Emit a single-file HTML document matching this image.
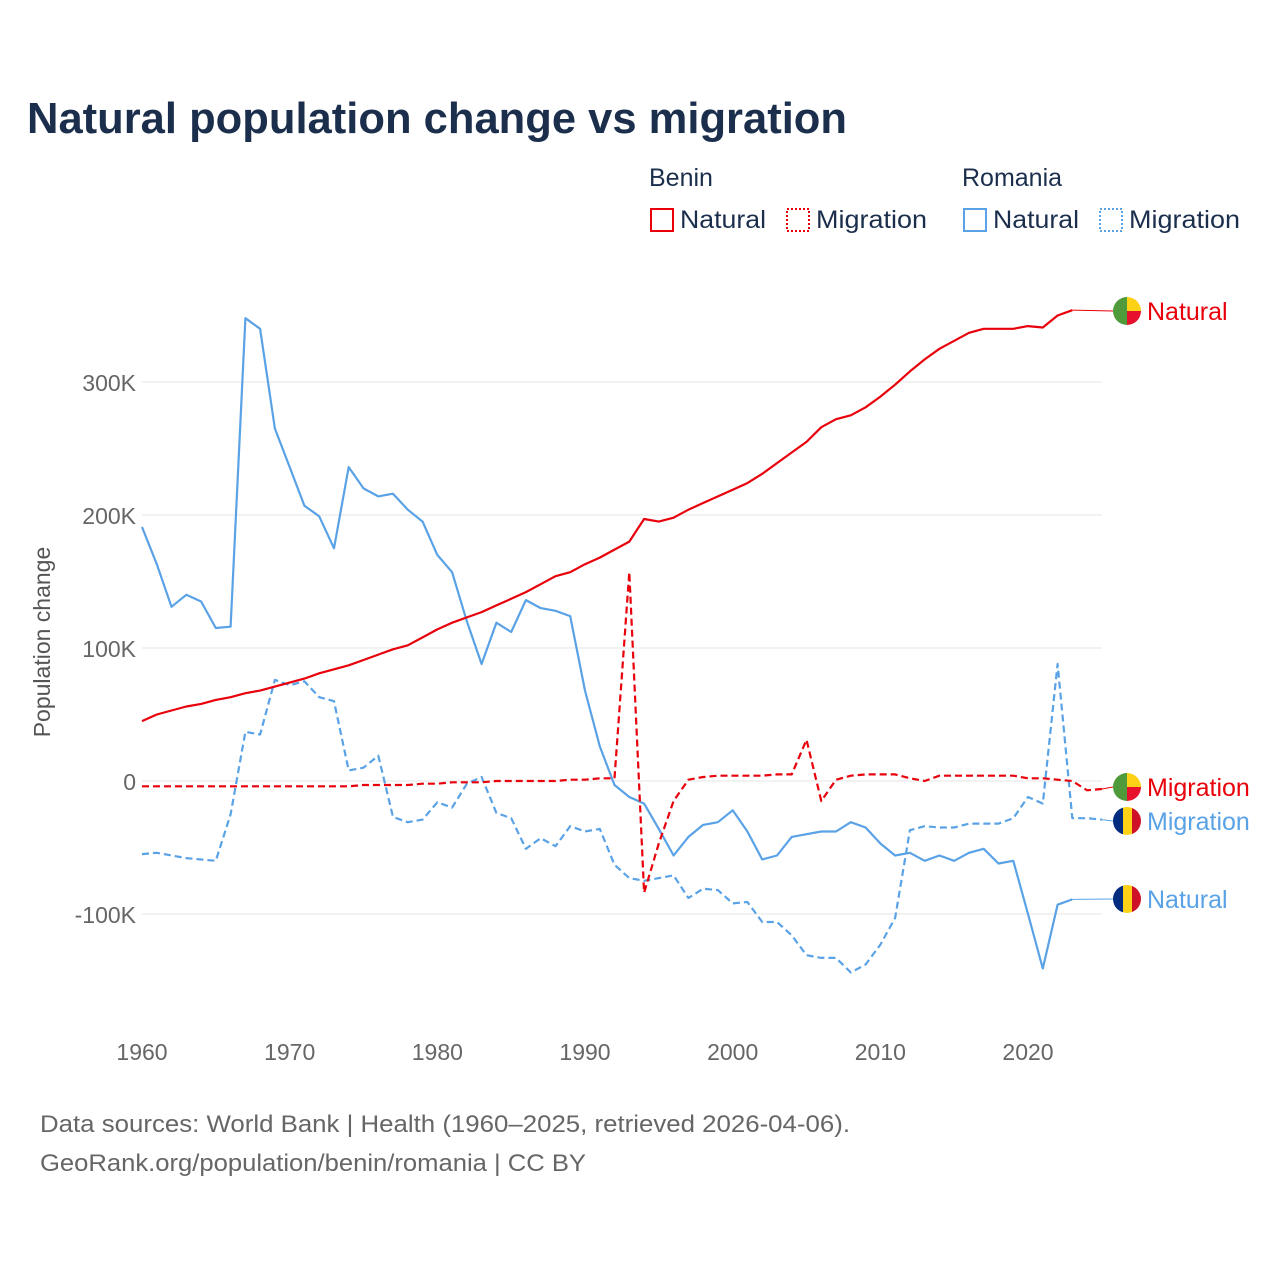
<!DOCTYPE html>
<html><head><meta charset="utf-8">
<style>
body{margin:0;background:#fff;font-family:"Liberation Sans",Lato,sans-serif;}
#wrap{position:relative;width:1280px;height:1280px;overflow:hidden}
</style></head>
<body>
<div id="wrap">
<svg id="chart" width="1280" height="1280" xmlns="http://www.w3.org/2000/svg" font-family="Liberation Sans, sans-serif">
<text x="27" y="133" font-size="44" font-weight="bold" fill="#1b2f4d" textLength="820" lengthAdjust="spacingAndGlyphs">Natural population change vs migration</text>
<g font-size="25" fill="#1b2f4d">
<text x="649" y="186">Benin</text>
<text x="962" y="186">Romania</text>
<g><rect x="651" y="209" width="22" height="22" fill="none" stroke="#e8000b" stroke-width="2"/><text x="680" y="228" textLength="86" lengthAdjust="spacingAndGlyphs">Natural</text></g>
<g><rect x="787" y="209" width="22" height="22" fill="none" stroke="#e8000b" stroke-width="2" stroke-dasharray="2,2"/><text x="816" y="228" textLength="111" lengthAdjust="spacingAndGlyphs">Migration</text></g>
<g><rect x="964" y="209" width="22" height="22" fill="none" stroke="#5aa2e6" stroke-width="2"/><text x="993" y="228" textLength="86" lengthAdjust="spacingAndGlyphs">Natural</text></g>
<g><rect x="1100" y="209" width="22" height="22" fill="none" stroke="#5aa2e6" stroke-width="2" stroke-dasharray="2,2"/><text x="1129" y="228" textLength="111" lengthAdjust="spacingAndGlyphs">Migration</text></g>
</g>
<text transform="translate(50,642) rotate(-90)" text-anchor="middle" font-size="23" fill="#555">Population change</text>
<g id="grid"></g><g id="yticks"></g><g id="xticks"></g><g id="series"></g><g id="labels"></g>
<text x="40" y="1132" font-size="24" fill="#666" textLength="810" lengthAdjust="spacingAndGlyphs">Data sources: World Bank | Health (1960–2025, retrieved 2026-04-06).</text>
<text x="40" y="1171" font-size="24" fill="#666" textLength="546" lengthAdjust="spacingAndGlyphs">GeoRank.org/population/benin/romania | CC BY</text>
</svg>
</div>
<script>
const years = Array.from({length:66},(_,i)=>1960+i);
const yTicks = [-100000,0,100000,200000,300000];
const yTickLabels = ["-100K","0","100K","200K","300K"];
const xTicks = [1960,1970,1980,1990,2000,2010,2020];
const romaniaNatural = [191,163,131,140,135,115,116,348,340,265,236,207,199,175,236,220,214,216,204,195,170,157,120,88,119,112,136,130,128,124,68,26,-3,-12,-17,-36,-56,-42,-33,-31,-22,-38,-59,-56,-42,-40,-38,-38,-31,-35,-47,-56,-54,-60,-56,-60,-54,-51,-62,-60,-100,-141,-93,-89];
const romaniaMigration = [-55,-54,-56,-58,-59,-60,-25,37,35,76,72,75,63,60,8,10,19,-27,-31,-29,-16,-20,-2,3,-24,-28,-51,-43,-49,-34,-38,-36,-63,-73,-75,-73,-71,-88,-81,-82,-92,-91,-106,-106,-116,-131,-133,-133,-144,-138,-123,-103,-37,-34,-35,-35,-32,-32,-32,-28,-12,-17,88,-28,-28,-29];
const beninNatural = [45,50,53,56,58,61,63,66,68,71,74,77,81,84,87,91,95,99,102,108,114,119,123,127,132,137,142,148,154,157,163,168,174,180,197,195,198,204,209,214,219,224,231,239,247,255,266,272,275,281,289,298,308,317,325,331,337,340,340,340,342,341,350,354];
const beninMigration = [-4,-4,-4,-4,-4,-4,-4,-4,-4,-4,-4,-4,-4,-4,-4,-3,-3,-3,-3,-2,-2,-1,-1,-1,0,0,0,0,0,1,1,2,2,157,-84,-47,-15,1,3,4,4,4,4,5,5,31,-15,1,4,5,5,5,2,0,4,4,4,4,4,4,2,2,1,0,-7,-6];
const NS="http://www.w3.org/2000/svg";
const X=y=>142+(y-1960)*14.767;
const Y=v=>781-v*0.00133;
function mk(tag,attrs,parent){const e=document.createElementNS(NS,tag);for(const k in attrs)e.setAttribute(k,attrs[k]);document.getElementById(parent).appendChild(e);return e;}
yTicks.forEach((t,i)=>{
  const l=mk('line',{x1:142,x2:1102,y1:Y(t),y2:Y(t),stroke:'#e6e6e6','stroke-width':1},'grid');
  
  
  const tx=mk('text',{x:136,y:Y(t)+9,'text-anchor':'end','font-size':23,fill:'#666'},'yticks');
  tx.textContent=yTickLabels[i];
  
  
});
xTicks.forEach(t=>{
  const tx=mk('text',{x:X(t),y:1060,'text-anchor':'middle','font-size':23,fill:'#666'},'xticks');
  tx.textContent=t;
  
  
});
function line(vals,color,dash,name){
  const d=vals.map((v,i)=>(i?'L':'M')+X(years[i]).toFixed(1)+','+Y(v*1000).toFixed(1)).join(' ');
  const p=mk('path',{d:d,fill:'none',stroke:color,'stroke-width':2.2,'stroke-dasharray':dash,'stroke-linejoin':'round'},'series');
  
  
  return [X(years[vals.length-1]),Y(vals[vals.length-1]*1000)];
}
const eRN=line(romaniaNatural,'#5aa2e6','none','romania-natural-line');
const eRM=line(romaniaMigration,'#5aa2e6','7,4','romania-migration-line');
const eBM=line(beninMigration,'#e8000b','7,4','benin-migration-line');
const eBN=line(beninNatural,'#e8000b','none','benin-natural-line');
function flag(cy,country){
  const g=mk('g',{},'labels');
  
  
  const cx=1127,r=14;
  const id='c'+Math.round(cy);
  const cp=document.createElementNS(NS,'clipPath');cp.setAttribute('id',id);
  const c=document.createElementNS(NS,'circle');c.setAttribute('cx',cx);c.setAttribute('cy',cy);c.setAttribute('r',r);cp.appendChild(c);g.appendChild(cp);
  const add=(x,y,w,h,f)=>{const rr=document.createElementNS(NS,'rect');rr.setAttribute('x',x);rr.setAttribute('y',y);rr.setAttribute('width',w);rr.setAttribute('height',h);rr.setAttribute('fill',f);rr.setAttribute('clip-path','url(#'+id+')');g.appendChild(rr);};
  if(country==='benin'){add(cx-r,cy-r,r,2*r,'#4f9a3a');add(cx,cy-r,r,r,'#fcd116');add(cx,cy,r,r,'#e8112d');}
  else{add(cx-r,cy-r,10,2*r,'#002b7f');add(cx-r+10,cy-r,9,2*r,'#fcd116');add(cx-r+19,cy-r,10,2*r,'#ce1126');}
}
function label(end,ly,text,color,country,name){
  const c=mk('polyline',{points:`${end[0]},${end[1]} ${1113},${ly}`,fill:'none',stroke:color,'stroke-width':1},'labels');
  
  
  flag(ly,country);
  const t=mk('text',{x:1147,y:ly+9,'font-size':25,fill:color},'labels');
  t.textContent=text;
  
  
}
label(eBN,311,'Natural','#e8000b','benin','benin-natural');
label(eBM,787,'Migration','#e8000b','benin','benin-migration');
label(eRM,821,'Migration','#5aa2e6','romania','romania-migration');
label(eRN,899,'Natural','#5aa2e6','romania','romania-natural');
</script>
</body></html>
